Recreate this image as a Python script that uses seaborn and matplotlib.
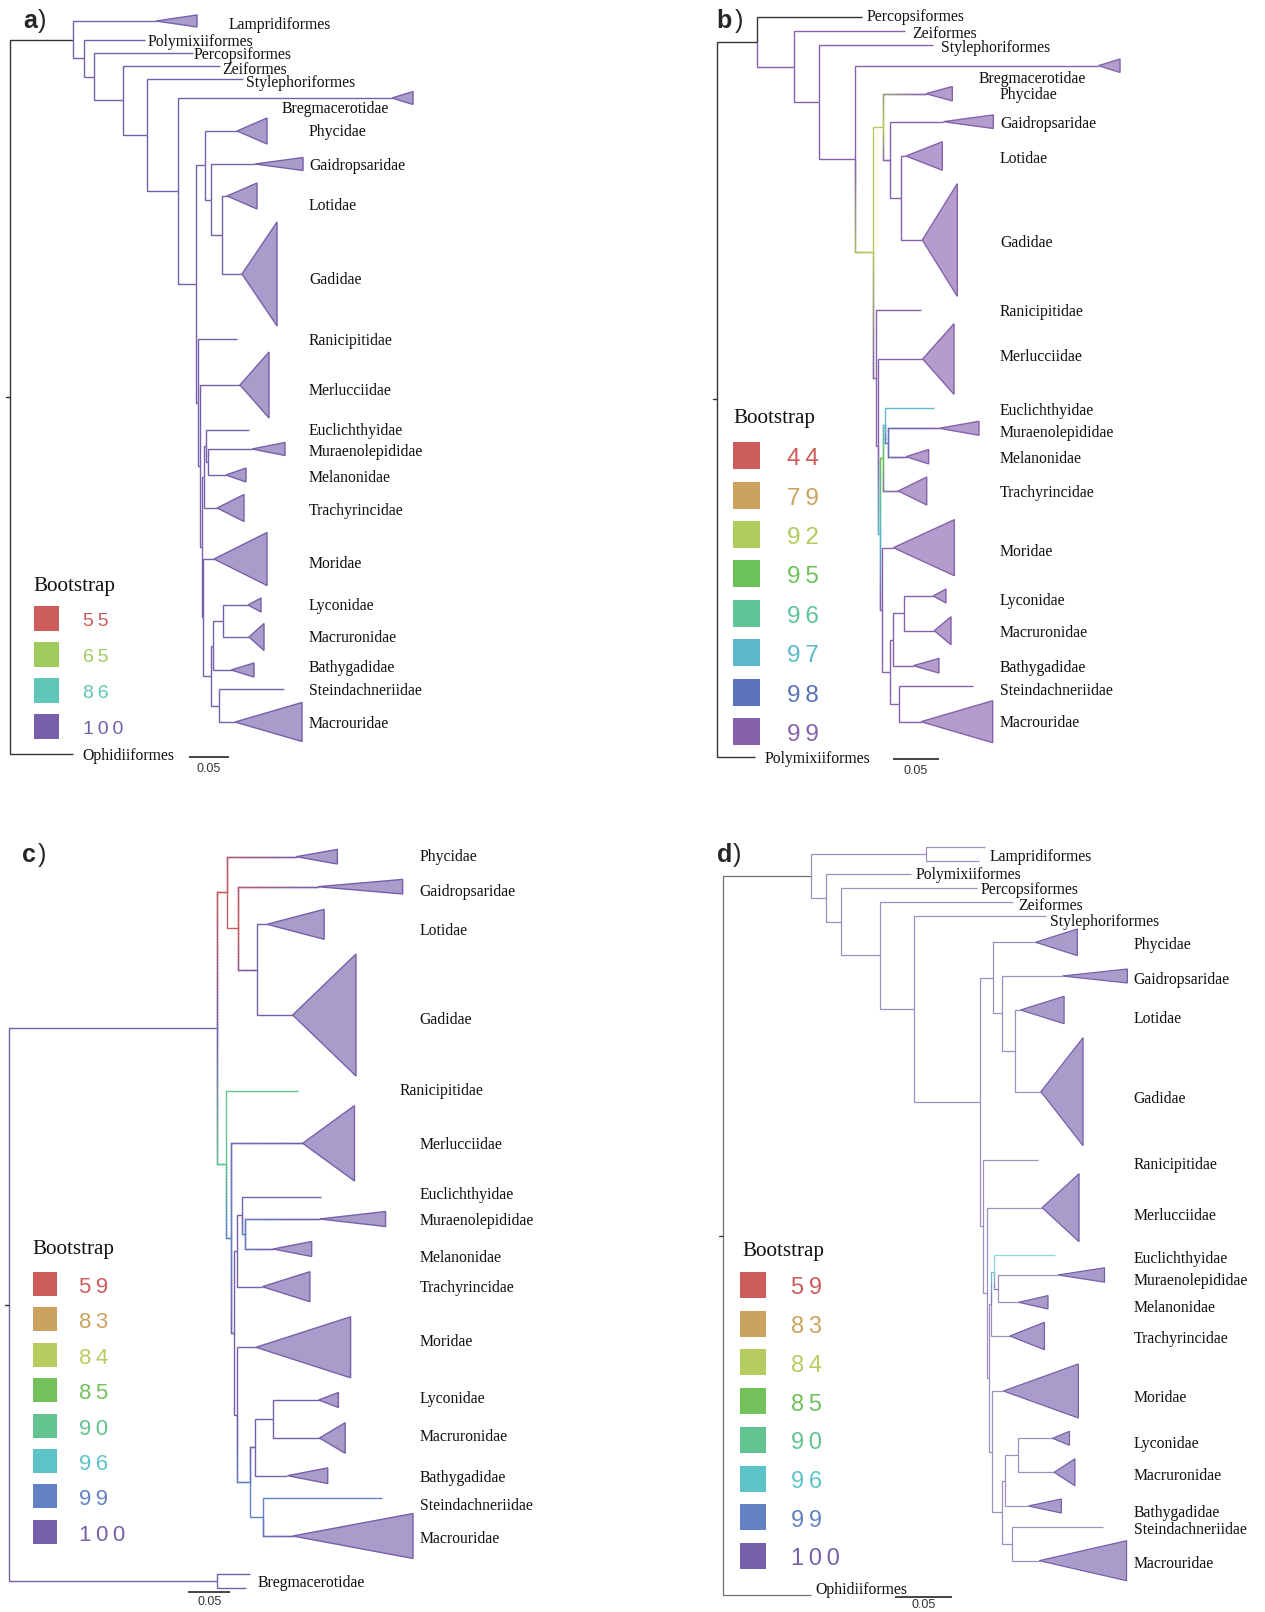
import numpy as np
import pandas as pd
import matplotlib
matplotlib.use("Agg")
import matplotlib.pyplot as plt
from matplotlib.collections import LineCollection
from matplotlib.colors import to_rgb
import seaborn as sns

# ---------------- panel a ----------------
# inner nodes: name, parent, depth (subst./site from root), bootstrap
a_inner = [
    ("root", None, 0.0, None), ("n1", "root", 0.0788, None),
    ("n2", "n1", 0.0925, 100), ("n3", "n2", 0.105, 100), ("n4", "n3", 0.1413, 100),
    ("n5", "n4", 0.1713, 100), ("n6", "n5", 0.21, 100), ("n7", "n6", 0.2319, 100),
    ("n8", "n7", 0.2438, 100), ("n10", "n8", 0.2513, 100), ("n11", "n10", 0.265, 100),
    ("n9", "n7", 0.2346, 100), ("n9b", "n9", 0.2381, 100), ("tm", "n9b", 0.2396, 100),
    ("t", "tm", 0.2425, 100), ("e", "t", 0.245, 100), ("m", "e", 0.2479, 100),
    ("mo", "tm", 0.2413, 100), ("bs", "mo", 0.2509, 100), ("b", "bs", 0.2541, 100),
    ("l", "b", 0.2666, 100), ("s", "bs", 0.2609, 100),
]
# tips: name, parent, depth (tip / clade node), row, collapsed clade edge depth, half height
a_tips = [
    ("Lampridiformes", "n1", 0.1825, 21, 0.2338, 6),
    ("Polymixiiformes", "n2", 0.1688, 40, None, 0),
    ("Percopsiformes", "n3", 0.2288, 53, None, 0),
    ("Zeiformes", "n4", 0.2625, 66, None, 0),
    ("Stylephoriformes", "n5", 0.2913, 79, None, 0),
    ("Bregmacerotidae", "n6", 0.4775, 98, 0.5038, 6.5),
    ("Phycidae", "n8", 0.2838, 131, 0.3213, 13),
    ("Gaidropsaridae", "n10", 0.3063, 164, 0.3663, 6.5),
    ("Lotidae", "n11", 0.2713, 196, 0.3088, 13),
    ("Gadidae", "n11", 0.29, 274, 0.3338, 52),
    ("Ranicipitidae", "n9", 0.2838, 339, None, 0),
    ("Merlucciidae", "n9b", 0.2875, 385, 0.3238, 33),
    ("Euclichthyidae", "e", 0.2988, 430, None, 0),
    ("Muraenolepididae", "m", 0.3025, 449, 0.3438, 6.5),
    ("Melanonidae", "m", 0.27, 475, 0.295, 7),
    ("Trachyrincidae", "t", 0.2588, 508, 0.2925, 13.5),
    ("Moridae", "mo", 0.255, 559, 0.3213, 26.5),
    ("Lyconidae", "l", 0.2975, 605, 0.3138, 7),
    ("Macruronidae", "l", 0.2988, 637, 0.3175, 13.5),
    ("Bathygadidae", "b", 0.2763, 670, 0.305, 7),
    ("Steindachneriidae", "s", 0.3425, 689, None, 0),
    ("Macrouridae", "s", 0.2813, 722, 0.365, 19.5),
    ("Ophidiiformes", "root", 0.0788, 754, None, 0),
]
a_boot = [55, 65, 86, 100]
a_colors = ["#CD5C5C", "#9FCC5C", "#5FC7B7", "#7660AA"]
a_labels = [
    ("Lampridiformes", 0.2738, 23), ("Polymixiiformes", 0.1725, 40),
    ("Percopsiformes", 0.23, 53), ("Zeiformes", 0.265, 68),
    ("Stylephoriformes", 0.295, 81), ("Bregmacerotidae", 0.34, 107),
    ("Phycidae", None, 130), ("Gaidropsaridae", None, 164), ("Lotidae", None, 204),
    ("Gadidae", None, 278), ("Ranicipitidae", None, 339), ("Merlucciidae", None, 389),
    ("Euclichthyidae", None, 429), ("Muraenolepididae", None, 450),
    ("Melanonidae", None, 476), ("Trachyrincidae", None, 509), ("Moridae", None, 562),
    ("Lyconidae", None, 604), ("Macruronidae", None, 636), ("Bathygadidae", None, 666),
    ("Steindachneriidae", None, 689), ("Macrouridae", None, 722),
    ("Ophidiiformes", 0.09, 754),
]

# ---------------- panel b ----------------
b_inner = [
    ("root", None, 0.0, None), ("n1", "root", 0.0435, None),
    ("n2", "n1", 0.0843, 99), ("n3", "n2", 0.1115, 99), ("n4", "n3", 0.1503, 99),
    ("n5", "n4", 0.1696, 92), ("n6", "n5", 0.1811, 92), ("n7", "n6", 0.1884, 99),
    ("n8", "n7", 0.2003, 99), ("n9", "n5", 0.1728, 99), ("n9b", "n9", 0.1757, 99),
    ("tm", "n9b", 0.177, 97), ("t", "tm", 0.1804, 95), ("e", "t", 0.1829, 97),
    ("m", "e", 0.1859, 98), ("mo", "tm", 0.18, 99), ("bs", "mo", 0.1887, 99),
    ("b", "bs", 0.192, 99), ("l", "b", 0.2039, 99), ("s", "bs", 0.1985, 99),
]
b_tips = [
    ("Percopsiformes", "n1", 0.1576, 16.7, None, 0),
    ("Zeiformes", "n2", 0.2047, 31, None, 0),
    ("Stylephoriformes", "n3", 0.2354, 45, None, 0),
    ("Bregmacerotidae", "n4", 0.4148, 65.7, 0.4384, 6.7),
    ("Phycidae", "n6", 0.2275, 93.7, 0.2561, 7.2),
    ("Gaidropsaridae", "n7", 0.2463, 121.7, 0.3007, 6.8),
    ("Lotidae", "n8", 0.2058, 156, 0.2452, 14.2),
    ("Gadidae", "n8", 0.2235, 240, 0.2615, 56.3),
    ("Ranicipitidae", "n9", 0.2221, 310, None, 0),
    ("Merlucciidae", "n9b", 0.2239, 359, 0.2579, 35.3),
    ("Euclichthyidae", "e", 0.2362, 407.7, None, 0),
    ("Muraenolepididae", "m", 0.242, 428.3, 0.2851, 7),
    ("Melanonidae", "m", 0.2058, 456.7, 0.2304, 7.2),
    ("Trachyrincidae", "t", 0.1974, 491, 0.2283, 14),
    ("Moridae", "mo", 0.192, 547.7, 0.2583, 28),
    ("Lyconidae", "l", 0.2354, 596, 0.2492, 7),
    ("Macruronidae", "l", 0.2365, 630.7, 0.2547, 14),
    ("Bathygadidae", "b", 0.2137, 665.7, 0.2416, 7.3),
    ("Steindachneriidae", "s", 0.2789, 686.3, None, 0),
    ("Macrouridae", "s", 0.2221, 721.7, 0.3, 21),
    ("Polymixiiformes", "root", 0.0416, 756.7, None, 0),
]
b_boot = [44, 79, 92, 95, 96, 97, 98, 99]
b_colors = ["#CD5C5C", "#CCA35E", "#AFCC5C", "#6DC15B", "#5FC49A", "#5CB8CA", "#5B73BB", "#8661AC"]
b_labels = [
    ("Percopsiformes", 0.163, 15), ("Zeiformes", 0.213, 32),
    ("Stylephoriformes", 0.2435, 46), ("Bregmacerotidae", 0.2843, 77),
    ("Phycidae", None, 93), ("Gaidropsaridae", None, 122), ("Lotidae", None, 157),
    ("Gadidae", None, 241), ("Ranicipitidae", None, 310), ("Merlucciidae", None, 355),
    ("Euclichthyidae", None, 409), ("Muraenolepididae", None, 431),
    ("Melanonidae", None, 457), ("Trachyrincidae", None, 491), ("Moridae", None, 550),
    ("Lyconidae", None, 599), ("Macruronidae", None, 631), ("Bathygadidae", None, 666),
    ("Steindachneriidae", None, 689), ("Macrouridae", None, 721),
    ("Polymixiiformes", 0.0525, 757),
]

# ---------------- panel c ----------------
c_inner = [
    ("root", None, 0.0, None), ("n1", "root", 0.2452, 100),
    ("na", "n1", 0.2578, 59), ("nc", "na", 0.2701, 59), ("nd", "nc", 0.2928, 100),
    ("nb", "n1", 0.2565, 90), ("ne", "nb", 0.2621, 99), ("nf", "ne", 0.266, 100),
    ("t", "nf", 0.2695, 100), ("e", "t", 0.2747, 100), ("m", "e", 0.279, 99),
    ("mo", "nf", 0.2695, 100), ("bs", "mo", 0.2849, 99), ("b", "bs", 0.2904, 100),
    ("l", "b", 0.3113, 100), ("s", "bs", 0.3002, 99), ("o", "root", 0.2452, 100),
]
c_tips = [
    ("Phycidae", "na", 0.3392, 856.7, 0.3878, 7.3),
    ("Gaidropsaridae", "nc", 0.3645, 886.7, 0.465, 7.3),
    ("Lotidae", "nd", 0.3046, 924.3, 0.3722, 15),
    ("Gadidae", "nd", 0.335, 1015, 0.4098, 61),
    ("Ranicipitidae", "nb", 0.3414, 1090.7, None, 0),
    ("Merlucciidae", "ne", 0.3468, 1143.3, 0.408, 37.7),
    ("Euclichthyidae", "e", 0.368, 1196.7, None, 0),
    ("Muraenolepididae", "m", 0.3667, 1219, 0.4448, 7.5),
    ("Melanonidae", "m", 0.3118, 1249, 0.3574, 7.5),
    ("Trachyrincidae", "t", 0.2992, 1286.7, 0.3553, 15),
    ("Moridae", "mo", 0.2916, 1347.3, 0.4034, 30.5),
    ("Lyconidae", "l", 0.3658, 1400, 0.389, 7.5),
    ("Macruronidae", "l", 0.3667, 1438, 0.397, 15.3),
    ("Bathygadidae", "b", 0.3287, 1475.7, 0.3764, 7.8),
    ("Steindachneriidae", "s", 0.4405, 1498.3, None, 0),
    ("Macrouridae", "s", 0.335, 1536, 0.4772, 22.5),
    ("Bregmacerotidae 1", "o", 0.2844, 1574, None, 0),
    ("Bregmacerotidae 2", "o", 0.2793, 1588.3, None, 0),
]
c_boot = [59, 83, 84, 85, 90, 96, 99, 100]
c_colors = ["#CD5C5C", "#CCA35E", "#B5CC5E", "#72C15B", "#62C390", "#5CC4C8", "#6282C4", "#7660AA"]
c_labels = [
    ("Phycidae", None, 855), ("Gaidropsaridae", None, 890), ("Lotidae", None, 929),
    ("Gadidae", None, 1017.7), ("Ranicipitidae", 0.4608, 1089.3),
    ("Merlucciidae", None, 1142.7), ("Euclichthyidae", None, 1192.7),
    ("Muraenolepididae", None, 1219), ("Melanonidae", None, 1256),
    ("Trachyrincidae", None, 1286), ("Moridae", None, 1340), ("Lyconidae", None, 1396.7),
    ("Macruronidae", None, 1435), ("Bathygadidae", None, 1475.7),
    ("Steindachneriidae", None, 1504), ("Macrouridae", None, 1536.7),
    ("Bregmacerotidae", 0.294, 1581),
]

# ---------------- panel d ----------------
d_inner = [
    ("root", None, 0.0, None), ("n1", "root", 0.0772, None),
    ("lamp", "n1", 0.1776, 100), ("n2", "n1", 0.0904, 100), ("n3", "n2", 0.1032, 100),
    ("n4", "n3", 0.1376, 100), ("n5", "n4", 0.1673, 100), ("n6", "n5", 0.225, 100),
    ("n7", "n6", 0.236, 100), ("n8", "n7", 0.2439, 100), ("n9", "n8", 0.2554, 100),
    ("n10", "n6", 0.2278, 100), ("n10b", "n10", 0.2307, 100), ("tm", "n10b", 0.233, 100),
    ("t", "tm", 0.2345, 100), ("e", "t", 0.2374, 96), ("m", "e", 0.2409, 100),
    ("mo", "tm", 0.2351, 100), ("bs", "mo", 0.2439, 100), ("b", "bs", 0.2468, 100),
    ("l", "b", 0.2584, 100), ("s", "bs", 0.2532, 100),
]
d_tips = [
    ("Lampridiformes 1", "lamp", 0.2292, 847.3, None, 0),
    ("Lampridiformes 2", "lamp", 0.2236, 860.7, None, 0),
    ("Polymixiiformes", "n2", 0.1641, 874.3, None, 0),
    ("Percopsiformes", "n3", 0.222, 888.3, None, 0),
    ("Zeiformes", "n4", 0.2541, 901.7, None, 0),
    ("Stylephoriformes", "n5", 0.2829, 915.7, None, 0),
    ("Phycidae", "n7", 0.2736, 942.3, 0.3101, 13.3),
    ("Gaidropsaridae", "n8", 0.297, 976, 0.3539, 7),
    ("Lotidae", "n9", 0.2604, 1010, 0.2985, 13.7),
    ("Gadidae", "n9", 0.2782, 1091.7, 0.3151, 54),
    ("Ranicipitidae", "n10", 0.2759, 1160, None, 0),
    ("Merlucciidae", "n10b", 0.2792, 1207.7, 0.3116, 34),
    ("Euclichthyidae", "e", 0.2907, 1255, None, 0),
    ("Muraenolepididae", "m", 0.2932, 1275, 0.3339, 7.2),
    ("Melanonidae", "m", 0.2588, 1302.3, 0.2844, 6.7),
    ("Trachyrincidae", "t", 0.251, 1336, 0.2813, 13.7),
    ("Moridae", "mo", 0.2454, 1391, 0.311, 27),
    ("Lyconidae", "l", 0.2885, 1438.3, 0.3032, 7),
    ("Macruronidae", "l", 0.2898, 1472.3, 0.308, 13.5),
    ("Bathygadidae", "b", 0.2672, 1506, 0.2961, 7),
    ("Steindachneriidae", "s", 0.3329, 1526.7, None, 0),
    ("Macrouridae", "s", 0.2767, 1560.7, 0.3532, 20),
    ("Ophidiiformes", "root", 0.0772, 1595, None, 0),
]
d_boot = c_boot
d_colors = c_colors
d_labels = [
    ("Lampridiformes", 0.2335, 855), ("Polymixiiformes", 0.1682, 873.3),
    ("Percopsiformes", 0.2257, 888.3), ("Zeiformes", 0.2588, 904),
    ("Stylephoriformes", 0.2861, 920),
    ("Phycidae", None, 942.7), ("Gaidropsaridae", None, 977.7), ("Lotidae", None, 1016.7),
    ("Gadidae", None, 1096.7), ("Ranicipitidae", None, 1163.3), ("Merlucciidae", None, 1214),
    ("Euclichthyidae", None, 1256.7), ("Muraenolepididae", None, 1279),
    ("Melanonidae", None, 1306), ("Trachyrincidae", None, 1336.7), ("Moridae", None, 1395.7),
    ("Lyconidae", None, 1442.3), ("Macruronidae", None, 1474), ("Bathygadidae", None, 1511),
    ("Steindachneriidae", None, 1527.7), ("Macrouridae", None, 1561.7),
    ("Ophidiiformes", 0.0806, 1588.3),
]

# ---------------- layout ----------------
W, H = 1265, 1612
BLACK = "#333333"
SANS = ["Liberation Sans", "DejaVu Sans"]

sns.set_theme(style="white")
plt.rcParams["font.family"] = ["Liberation Serif", "DejaVu Serif"]

fig = plt.figure(figsize=(W / 100, H / 100), dpi=100)


def mix(c, w):
    r = np.array(to_rgb(c))
    return tuple(r + (1 - r) * w)


def elbow(ax, x0, y0, x1, y1, c0, c1, ppu, lw, alpha):
    v = abs(y1 - y0)
    h = (x1 - x0) * ppu
    if c0 == c1 or v + h < 2:
        ax.plot([x0, x0, x1], [y0, y1, y1], color=c1, lw=lw, alpha=alpha,
                solid_capstyle="butt", solid_joinstyle="miter")
        return
    # colour runs from the parent's value to the child's along the elbow
    nv = max(int(v / 1.5), 1)
    nh = max(int(h / 1.5), 1)
    px = np.r_[np.full(nv, x0), np.linspace(x0, x1, nh + 1)]
    py = np.r_[np.linspace(y0, y1, nv + 1)[:-1], np.full(nh + 1, y1)]
    s = np.r_[np.linspace(0, v, nv + 1)[:-1], v + np.linspace(0, h, nh + 1)]
    f = ((s[:-1] + s[1:]) / 2 / (v + h))[:, None]
    cols = np.array(to_rgb(c0))[None] * (1 - f) + np.array(to_rgb(c1))[None] * f
    segs = np.stack([np.c_[px[:-1], py[:-1]], np.c_[px[1:], py[1:]]], axis=1)
    ax.add_collection(LineCollection(segs, colors=cols, linewidths=lw, alpha=alpha,
                                     capstyle="projecting"))


def draw_tree(inner, tips, boot, colors, labels, root_px, ppu, label_col, scale, lw, alpha):
    ax = fig.add_axes([0, 0, 1, 1])
    ax.set_xlim(-root_px / ppu, (W - root_px) / ppu)
    ax.set_ylim(H, 0)
    ax.set_axis_off()

    nodes = pd.DataFrame(inner, columns=["name", "parent", "depth", "boot"])
    leaves = pd.DataFrame(tips, columns=["name", "parent", "depth", "row", "edge", "half"])
    pal = dict(zip(boot, colors))

    depth = dict(zip(nodes.name, nodes.depth)) | dict(zip(leaves.name, leaves.depth))
    parent = dict(zip(nodes.name, nodes.parent)) | dict(zip(leaves.name, leaves.parent))
    kids = {}
    for n, p in parent.items():
        if p is not None and p == p:
            kids.setdefault(p, []).append(n)

    # inner rows sit midway between their outer children
    rows = dict(zip(leaves.name, leaves.row))

    def row(n):
        if n not in rows:
            ys = [row(k) for k in kids[n]]
            rows[n] = (min(ys) + max(ys)) / 2
        return rows[n]

    for n in nodes.name:
        row(n)

    col = {}
    for r in nodes.itertuples():
        col[r.name] = pal[int(r.boot)] if pd.notna(r.boot) else BLACK
    for r in leaves.itertuples():
        col[r.name] = colors[-1] if pd.notna(r.edge) else col[r.parent]

    for n, p in parent.items():
        if p is None or p != p:
            continue
        c1 = col[n]
        c0 = c1 if col[p] == BLACK else col[p]
        elbow(ax, depth[p], rows[p], depth[n], rows[n], c0, c1, ppu, lw, alpha)

    # collapsed clades
    for r in leaves[leaves.edge.notna()].itertuples():
        ax.fill([r.depth, r.edge, r.edge], [r.row, r.row - r.half, r.row + r.half],
                facecolor=mix(col[r.name], 0.38), edgecolor=col[r.name], lw=lw,
                joinstyle="miter")

    # root stub
    ax.plot([-4 / ppu, 0], [rows["root"]] * 2, color=BLACK, lw=lw)

    for text, x, y in labels:
        ax.text(label_col if x is None else x, y + 2, text, fontsize=11.3,
                ha="left", va="center", color="#111111")

    sx, sy, dy = scale
    ax.plot([sx, sx + 0.05], [sy, sy], color="#444444", lw=1.4, solid_capstyle="butt")
    ax.text(sx + 0.025, sy + dy, "0.05", ha="center", va="center", fontsize=9,
            family=SANS, color="#333333")


def draw_legend(boot, colors, title_xy, sq_x, sq_y0, step, side, num_x, num_fs):
    lay = fig.add_axes([0, 0, 1, 1])
    df = pd.DataFrame({"boot": boot, "x": sq_x, "y": sq_y0 + step * np.arange(len(boot))})
    pal = dict(zip(boot, colors))
    sns.scatterplot(data=df, x="x", y="y", hue="boot", palette=pal,
                    marker="s", s=(side * 0.72) ** 2, linewidth=0, legend=False, ax=lay)
    lay.set_xlim(0, W)
    lay.set_ylim(H, 0)
    lay.set_axis_off()
    tx, ty = title_xy
    lay.text(tx, ty + 3, "Bootstrap", fontsize=15.2, ha="left", va="center", color="#111111")
    for r in df.itertuples():
        lay.text(num_x, r.y + 3.5, "\u2009".join(str(r.boot)), fontsize=num_fs, ha="left",
                 va="center", family=SANS, color=pal[r.boot])
    return lay


draw_tree(a_inner, a_tips, a_boot, a_colors, a_labels, 10, 800, 0.3738, (0.2238, 757, 12), 1.0, 1.0)
draw_tree(b_inner, b_tips, b_boot, b_colors, b_labels, 716.7, 920, 0.3079, (0.1916, 759.3, 12), 1.0, 1.0)
draw_tree(c_inner, c_tips, c_boot, c_colors, c_labels, 9.3, 846, 0.4849, (0.2112, 1591.7, 10.5), 1.0, 1.0)
draw_tree(d_inner, d_tips, d_boot, d_colors, d_labels, 723.2, 1142, 0.3595, (0.1501, 1597.3, 7.5), 0.9, 0.7)

draw_legend(a_boot, a_colors, (33, 583), 46.5, 618, 36, 25, 83, 14)
draw_legend(b_boot, b_colors, (733.3, 416), 746.7, 455.7, 39.4, 27, 786.7, 17.5)
draw_legend(c_boot, c_colors, (32, 1246.7), 44.9, 1284, 35.4, 24, 79.3, 16)
lay = draw_legend(d_boot, d_colors, (742, 1248.3), 753, 1285, 38.7, 26, 791, 17)

# panel letters
for letter, x, xp, y in [("a", 23, 37.3, 21), ("b", 716.7, 735, 21),
                         ("c", 22.1, 37.5, 855), ("d", 717, 732.8, 855)]:
    lay.text(x, y, letter, fontsize=18, fontweight="bold", family=SANS, ha="left", va="center")
    lay.text(xp, y, ")", fontsize=18, family=SANS, ha="left", va="center")

fig.savefig("out.png", dpi=100)
